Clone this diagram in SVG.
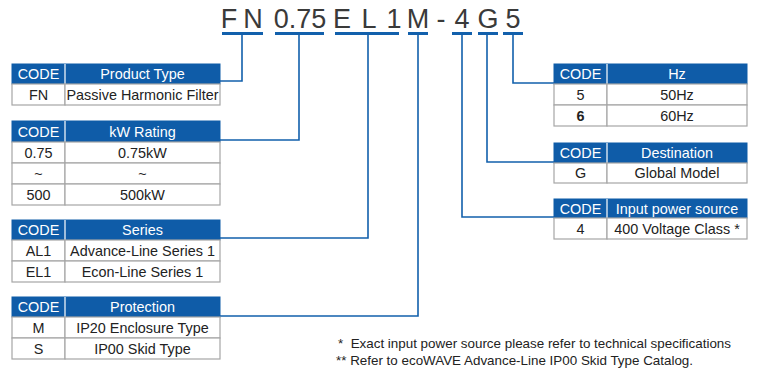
<svg xmlns="http://www.w3.org/2000/svg" width="758" height="374" viewBox="0 0 758 374">
<style>
text{font-family:"Liberation Sans",Arial,sans-serif;}
.t{font-size:27px;fill:#3a3a3a;text-anchor:middle;}
.bar{fill:#1260ac;}
.hd{fill:#0f5ca8;stroke:#0f5ca8;stroke-width:1;}
.sep{stroke:#ffffff;stroke-width:1.2;}
.cell{fill:#ffffff;stroke:#a6a6a6;stroke-width:1.2;}
.ht{font-size:14.4px;fill:#ffffff;text-anchor:middle;}
.ct{font-size:14.4px;fill:#222222;text-anchor:middle;}
.conn{fill:none;stroke:#1260ac;stroke-width:1.6;}
.fn{font-size:13.4px;fill:#222222;}
</style>
<g id="code">
<text class="t" x="229" y="28">F</text>
<text class="t" x="253" y="28">N</text>
<text class="t" x="300" y="28">0.75</text>
<text class="t" x="342" y="28">E</text>
<text class="t" x="369" y="28">L</text>
<text class="t" x="394" y="28">1</text>
<text class="t" x="418" y="28">M</text>
<text class="t" x="441" y="28">-</text>
<text class="t" x="462" y="28">4</text>
<text class="t" x="488" y="28">G</text>
<text class="t" x="513" y="28">5</text>
<rect class="bar" x="222" y="32" width="41" height="3"/>
<rect class="bar" x="275" y="32" width="49" height="3"/>
<rect class="bar" x="335" y="32" width="64" height="3"/>
<rect class="bar" x="408" y="32" width="20" height="3"/>
<rect class="bar" x="452" y="32" width="20" height="3"/>
<rect class="bar" x="478" y="32" width="20" height="3"/>
<rect class="bar" x="503" y="32" width="20" height="3"/>
</g>
<g id="connectors">
<polyline class="conn" points="242,34 242,81 220,81"/>
<polyline class="conn" points="299,34 299,140 220,140"/>
<polyline class="conn" points="368,34 368,238 220,238"/>
<polyline class="conn" points="418,34 418,316 220,316"/>
<polyline class="conn" points="513,34 513,83 554,83"/>
<polyline class="conn" points="487,34 487,162 554,162"/>
<polyline class="conn" points="462,34 462,217 554,217"/>
</g>
<g id="product-type">
<rect class="hd" x="12" y="64" width="208" height="20"/>
<line class="sep" x1="65" y1="64" x2="65" y2="84"/>
<text class="ht" x="38.5" y="79">CODE</text>
<text class="ht" x="142.5" y="79">Product Type</text>
<rect class="cell" x="12" y="84" width="53" height="21"/>
<rect class="cell" x="65" y="84" width="155" height="21"/>
<text class="ct" x="38.5" y="99.5">FN</text>
<text class="ct" x="142.5" y="99.5">Passive Harmonic Filter</text>
</g>
<g id="kw-rating">
<rect class="hd" x="12" y="121" width="208" height="21"/>
<line class="sep" x1="65" y1="121" x2="65" y2="142"/>
<text class="ht" x="38.5" y="136.5">CODE</text>
<text class="ht" x="142.5" y="136.5">kW Rating</text>
<rect class="cell" x="12" y="142" width="53" height="21"/>
<rect class="cell" x="65" y="142" width="155" height="21"/>
<text class="ct" x="38.5" y="157.5">0.75</text>
<text class="ct" x="142.5" y="157.5">0.75kW</text>
<rect class="cell" x="12" y="163" width="53" height="21"/>
<rect class="cell" x="65" y="163" width="155" height="21"/>
<text class="ct" x="38.5" y="178.5">~</text>
<text class="ct" x="142.5" y="178.5">~</text>
<rect class="cell" x="12" y="184" width="53" height="21"/>
<rect class="cell" x="65" y="184" width="155" height="21"/>
<text class="ct" x="38.5" y="199.5">500</text>
<text class="ct" x="142.5" y="199.5">500kW</text>
</g>
<g id="series">
<rect class="hd" x="12" y="220" width="208" height="20"/>
<line class="sep" x1="65" y1="220" x2="65" y2="240"/>
<text class="ht" x="38.5" y="235">CODE</text>
<text class="ht" x="142.5" y="235">Series</text>
<rect class="cell" x="12" y="240" width="53" height="21"/>
<rect class="cell" x="65" y="240" width="155" height="21"/>
<text class="ct" x="38.5" y="255.5">AL1</text>
<text class="ct" x="142.5" y="255.5">Advance-Line Series 1</text>
<rect class="cell" x="12" y="261" width="53" height="21"/>
<rect class="cell" x="65" y="261" width="155" height="21"/>
<text class="ct" x="38.5" y="276.5">EL1</text>
<text class="ct" x="142.5" y="276.5">Econ-Line Series 1</text>
</g>
<g id="protection">
<rect class="hd" x="12" y="297" width="208" height="20"/>
<line class="sep" x1="65" y1="297" x2="65" y2="317"/>
<text class="ht" x="38.5" y="312">CODE</text>
<text class="ht" x="142.5" y="312">Protection</text>
<rect class="cell" x="12" y="317" width="53" height="21"/>
<rect class="cell" x="65" y="317" width="155" height="21"/>
<text class="ct" x="38.5" y="332.5">M</text>
<text class="ct" x="142.5" y="332.5">IP20 Enclosure Type</text>
<rect class="cell" x="12" y="338" width="53" height="21"/>
<rect class="cell" x="65" y="338" width="155" height="21"/>
<text class="ct" x="38.5" y="353.5">S</text>
<text class="ct" x="142.5" y="353.5">IP00 Skid Type</text>
</g>
<g id="hz">
<rect class="hd" x="554" y="64" width="193" height="20"/>
<line class="sep" x1="607" y1="64" x2="607" y2="84"/>
<text class="ht" x="580.5" y="79">CODE</text>
<text class="ht" x="677" y="79">Hz</text>
<rect class="cell" x="554" y="84" width="53" height="21"/>
<rect class="cell" x="607" y="84" width="140" height="21"/>
<text class="ct" x="580.5" y="99.5">5</text>
<text class="ct" x="677" y="99.5">50Hz</text>
<rect class="cell" x="554" y="105" width="53" height="21"/>
<rect class="cell" x="607" y="105" width="140" height="21"/>
<text class="ct" x="580.5" y="120.5" font-weight="bold">6</text>
<text class="ct" x="677" y="120.5">60Hz</text>
</g>
<g id="destination">
<rect class="hd" x="554" y="143" width="193" height="20"/>
<line class="sep" x1="607" y1="143" x2="607" y2="163"/>
<text class="ht" x="580.5" y="158">CODE</text>
<text class="ht" x="677" y="158">Destination</text>
<rect class="cell" x="554" y="163" width="53" height="20"/>
<rect class="cell" x="607" y="163" width="140" height="20"/>
<text class="ct" x="580.5" y="178">G</text>
<text class="ct" x="677" y="178">Global Model</text>
</g>
<g id="input-power">
<rect class="hd" x="554" y="199" width="193" height="19"/>
<line class="sep" x1="607" y1="199" x2="607" y2="218"/>
<text class="ht" x="580.5" y="213.5">CODE</text>
<text class="ht" x="677" y="213.5">Input power source</text>
<rect class="cell" x="554" y="218" width="53" height="21"/>
<rect class="cell" x="607" y="218" width="140" height="21"/>
<text class="ct" x="580.5" y="233.5">4</text>
<text class="ct" x="677" y="233.5">400 Voltage Class *</text>
</g>
<g id="footnotes">
<text class="fn" x="338" y="348" xml:space="preserve">*  Exact input power source please refer to technical specifications</text>
<text class="fn" x="336" y="365">** Refer to ecoWAVE Advance-Line IP00 Skid Type Catalog.</text>
</g>
</svg>
